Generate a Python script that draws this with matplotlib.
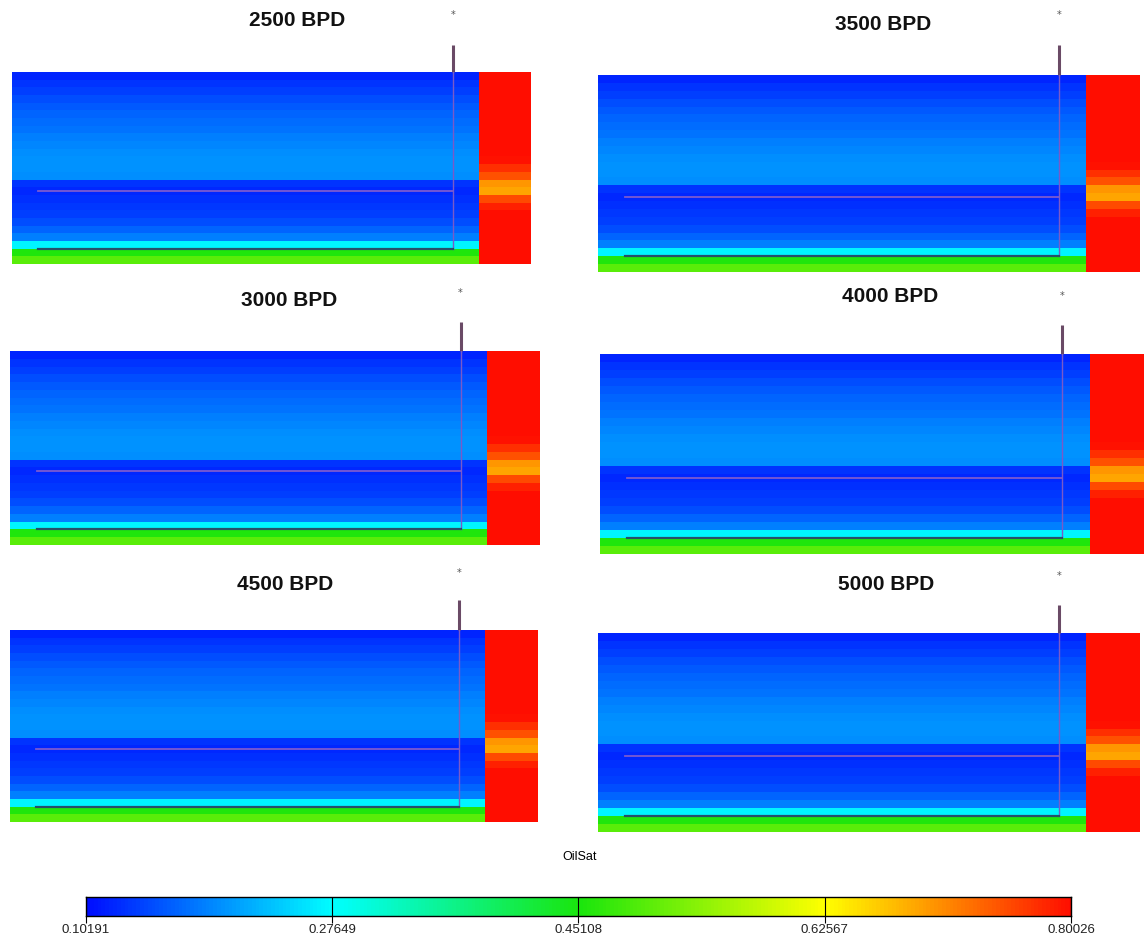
import numpy as np
import matplotlib.pyplot as plt
from matplotlib.colors import LinearSegmentedColormap, Normalize

# panel titles (rates)
rates = ["2500 BPD", "3500 BPD", "3000 BPD", "4000 BPD", "4500 BPD", "5000 BPD"]

# oil saturation per layer, top -> bottom (25 layers), main reservoir block
main_sat = [0.120, 0.130, 0.140, 0.150, 0.158, 0.165, 0.172, 0.178, 0.184, 0.190,
            0.195, 0.198, 0.200, 0.195, 0.130, 0.122, 0.127, 0.133, 0.140, 0.150,
            0.165, 0.185, 0.270, 0.455, 0.500]
# oil saturation per layer, right-hand (unswept) block
edge_sat = [0.800, 0.800, 0.800, 0.800, 0.800, 0.800, 0.800, 0.800, 0.800, 0.800,
            0.800, 0.795, 0.775, 0.750, 0.700, 0.690, 0.755, 0.785, 0.798, 0.800,
            0.800, 0.800, 0.800, 0.800, 0.800]
x_edges = [0, 900, 1000]          # ft
well_x = 850
lateral_start = 50
lateral_depths = [0.62, 0.92]     # fraction of thickness

cb_ticks = [0.10191, 0.27649, 0.45108, 0.62567, 0.80026]

# panel placement in pixels: x0, x1, y0, y1, title x, title y, well top, star y
panels = [
    (12, 531, 72, 264, 297, 20, 45, 15),
    (598, 1140, 75, 272, 883, 25, 45, 15),
    (10, 540, 351, 545, 289, 300, 322, 293),
    (600, 1144, 354, 554, 890, 297, 325, 296),
    (10, 538, 630, 822, 285, 585, 600, 573),
    (598, 1140, 633, 832, 886, 585, 605, 576),
]

W, H = 1144, 940
cmap = LinearSegmentedColormap.from_list(
    "oilsat", [(0.0, (0.0, 0.05, 1.0)), (0.25, (0.0, 1.0, 1.0)),
               (0.5, (0.1, 0.9, 0.05)), (0.75, (1.0, 1.0, 0.0)),
               (1.0, (1.0, 0.05, 0.0))])
norm = Normalize(vmin=cb_ticks[0], vmax=cb_ticks[-1])

fig = plt.figure(figsize=(W / 100, H / 100), dpi=100)
fig.patch.set_facecolor("white")

nl = len(main_sat)
y_edges = np.linspace(0, 1, nl + 1)
grid = np.column_stack([main_sat, edge_sat])

for (x0, x1, y0, y1, tx, ty, wtop, sy), name in zip(panels, rates):
    ax = fig.add_axes([x0 / W, 1 - y1 / H, (x1 - x0) / W, (y1 - y0) / H])
    ax.pcolormesh(x_edges, y_edges, grid, cmap=cmap, norm=norm, shading="flat")
    ax.set_xlim(x_edges[0], x_edges[-1])
    ax.set_ylim(1, 0)
    ax.axis("off")

    ph = y1 - y0
    # well: vertical section above and through reservoir
    top_frac = -(y0 - wtop) / ph
    ax.plot([well_x, well_x], [top_frac, 0], color="#6a4a66", lw=2.2,
            clip_on=False, solid_capstyle="butt")
    ax.plot([well_x, well_x], [0, lateral_depths[1]], color="#7a5ac8", lw=1.0)
    # laterals
    ax.plot([lateral_start, well_x], [lateral_depths[0]] * 2, color="#7a5ad0", lw=1.3)
    ax.plot([lateral_start, well_x], [lateral_depths[1]] * 2, color="#25506a", lw=1.6)
    ax.text(well_x, -(y0 - sy) / ph, "*", ha="center", va="center",
            fontsize=7, color="#555555", clip_on=False)

    fig.text(tx / W, 1 - ty / H, name, ha="center", va="center",
             fontsize=15, fontweight="bold", family=["Liberation Sans", "DejaVu Sans"],
             color="#111111")

# colorbar
cax = fig.add_axes([86 / W, 1 - 916 / H, (1071 - 86) / W, 19 / H])
vals = np.linspace(cb_ticks[0], cb_ticks[-1], 512)
cax.pcolormesh(vals, [0, 1], vals[:-1].reshape(1, -1), cmap=cmap, norm=norm)
for t in cb_ticks:
    cax.axvline(t, color="black", lw=0.8)
cax.set_xlim(cb_ticks[0], cb_ticks[-1])
cax.set_ylim(0, 1)
cax.set_yticks([])
cax.set_xticks(cb_ticks)
cax.set_xticklabels([f"{t:.5f}" for t in cb_ticks],
                    family=["Liberation Sans Narrow", "Liberation Sans", "DejaVu Sans"],
                    fontsize=9.5, color="#222222")
cax.tick_params(axis="x", length=5, width=0.8, pad=1)
for s in cax.spines.values():
    s.set_linewidth(1.0)
fig.text(580 / W, 1 - 857 / H, "OilSat", ha="center", va="center", fontsize=9,
         family=["Liberation Sans Narrow", "Liberation Sans", "DejaVu Sans"])

fig.savefig("out.png", dpi=100, facecolor="white")
